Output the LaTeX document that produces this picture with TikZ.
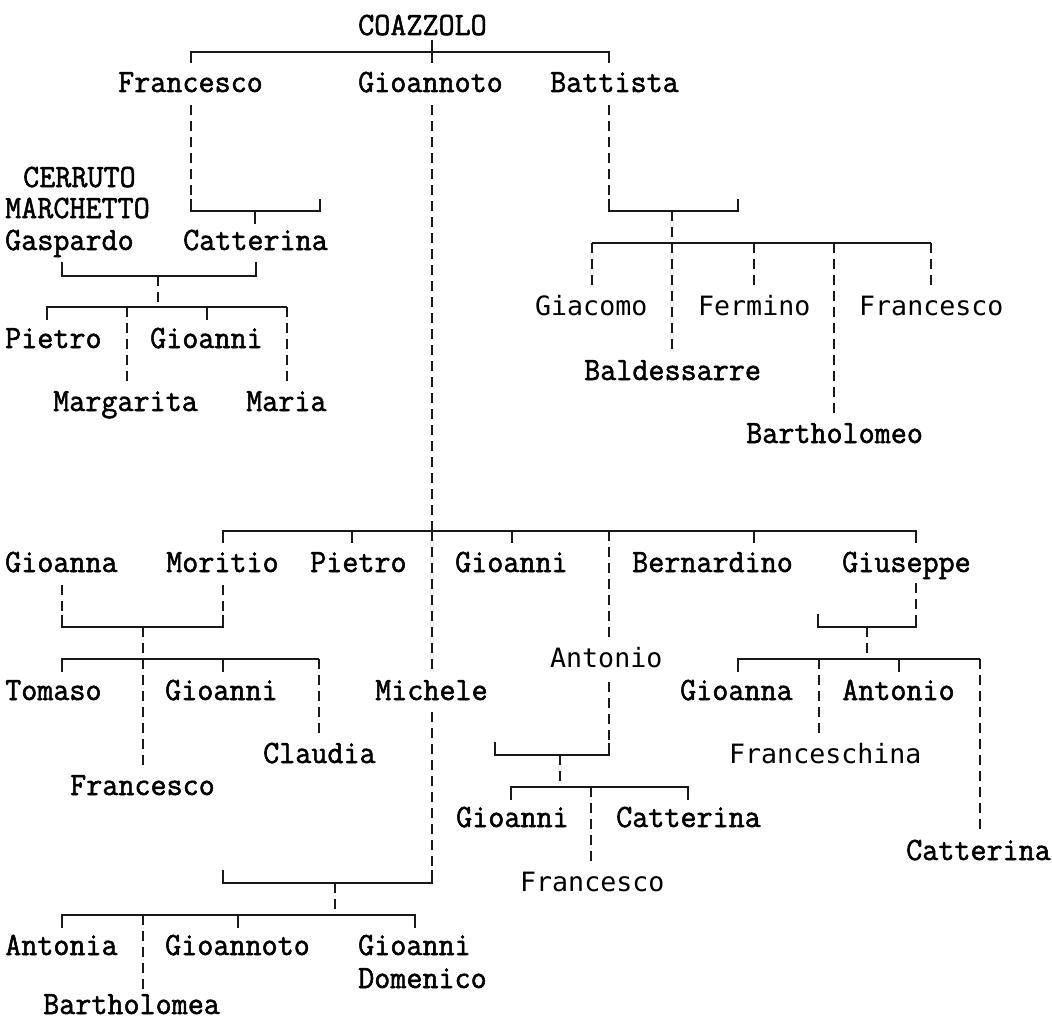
\documentclass[tikz,border=0pt]{standalone}
\usepackage{fontspec}
\newfontfamily\sansmonofam{DejaVu Sans Mono}
\newfontfamily\serifmonofam{Latin Modern Mono}[FakeBold=1.6, FakeStretch=0.96]
\newcommand\srfont{\fontsize{32.5}{35}\selectfont\serifmonofam}
\newcommand\ssfont{\fontsize{26.6}{30}\selectfont\sansmonofam}
\tikzset{
  sr/.style={anchor=base west, inner sep=0pt, font=\srfont, text=black, text depth=0pt},
  ss/.style={anchor=base west, inner sep=0pt, font=\ssfont, text=black, text depth=0pt},
  bar/.style={line width=2pt, draw=black!90, line join=miter},
  dl/.style={line width=2pt, draw=black!90, dash pattern=on 10pt off 6pt},
}
\begin{document}
\begin{tikzpicture}[x=1pt,y=-1pt]
\fill[white] (0,0) rectangle (1052,1022);
\useasboundingbox (0,0) rectangle (1052,1022);

% ---- top generation
\node[sr] (coazzolo) at (358,35) {COAZZOLO};
\node[sr] (francescoA) at (118,92) {Francesco};
\node[sr] (gioannotoA) at (358,92) {Gioannoto};
\node[sr] (battista) at (550,92) {Battista};
\coordinate (topL) at (191,52); \coordinate (topR) at (609,52); \coordinate (topM) at (432,52);
\draw[bar] (432,40) -- (432,63);
\draw[bar] (191,63) -- (topL) -- (topR) -- (609,63);

% ---- Francesco branch
\draw[dl] (191,105) -- (191,199);
\draw[bar] (191,199) -- (191,211) -- (320,211) -- (320,199);
\draw[bar] (255,211) -- (255,224);
\node[sr] (catterinaA) at (183,250) {Catterina};
\node[sr] (cerruto) at (23,187) {CERRUTO};
\node[sr] (marchetto) at (5,218) {MARCHETTO};
\node[sr] (gaspardo) at (5,250) {Gaspardo};
\draw[bar] (62,262) -- (62,276) -- (256,276) -- (256,262);
\draw[dl] (158,276) -- (158,307);
\draw[bar] (47,320) -- (47,307) -- (287,307);
\draw[bar] (207,307) -- (207,320);
\draw[dl] (127,307) -- (127,382);
\draw[dl] (287,307) -- (287,382);
\node[sr] (pietroA) at (5,348) {Pietro};
\node[sr] (gioanniA) at (150,348) {Gioanni};
\node[sr] (margarita) at (53,411) {Margarita};
\node[sr] (maria) at (246,411) {Maria};

% ---- Battista branch
\draw[dl] (609,105) -- (609,199);
\draw[bar] (609,199) -- (609,211) -- (738,211) -- (738,199);
\draw[dl] (672,211) -- (672,243);
\draw[bar] (592,243) -- (931,243);
\draw[dl] (592,243) -- (592,287);
\draw[dl] (672,243) -- (672,350);
\draw[dl] (754,243) -- (754,287);
\draw[dl] (834,243) -- (834,413);
\draw[dl] (931,243) -- (931,287);
\node[ss] (giacomo) at (535,315) {Giacomo};
\node[ss] (fermino) at (698,315) {Fermino};
\node[ss] (francescoB) at (859,315) {Francesco};
\node[sr] (baldessarre) at (584,380) {Baldessarre};
\node[sr] (bartholomeo) at (746,443) {Bartholomeo};

% ---- Gioannoto branch
\draw[dl] (432,105) -- (432,531);
\draw[dl] (432,531) -- (432,672);
\draw[dl] (432,712) -- (432,870);
\draw[bar] (223,543) -- (223,531) -- (916,531) -- (916,543);
\draw[bar] (352,531) -- (352,543);
\draw[bar] (512,531) -- (512,543);
\draw[bar] (754,531) -- (754,543);
\draw[dl] (609,531) -- (609,637);
\node[sr] (gioannaA) at (5,572) {Gioanna};
\node[sr] (moritio) at (166,572) {Moritio};
\node[sr] (pietroB) at (310,572) {Pietro};
\node[sr] (gioanniB) at (455,572) {Gioanni};
\node[sr] (bernardino) at (632,572) {Bernardino};
\node[sr] (giuseppe) at (842,572) {Giuseppe};

% Moritio + Gioanna
\draw[dl] (62,585) -- (62,615);
\draw[dl] (223,585) -- (223,615);
\draw[bar] (62,615) -- (62,627) -- (223,627) -- (223,615);
\draw[dl] (143,627) -- (143,659);
\draw[bar] (62,672) -- (62,659) -- (319,659);
\draw[bar] (223,659) -- (223,672);
\draw[dl] (143,659) -- (143,767);
\draw[dl] (319,659) -- (319,733);
\node[sr] (tomaso) at (5,700) {Tomaso};
\node[sr] (gioanniC) at (165,700) {Gioanni};
\node[sr] (michele) at (375,700) {Michele};
\node[sr] (claudia) at (263,763) {Claudia};
\node[sr] (francescoC) at (70,795) {Francesco};

% Michele
\draw[bar] (223,870) -- (223,883) -- (432,883) -- (432,870);
\draw[dl] (335,883) -- (335,915);
\draw[bar] (62,928) -- (62,915) -- (415,915) -- (415,928);
\draw[bar] (238,915) -- (238,928);
\draw[dl] (143,915) -- (143,990);
\node[sr] (antonia) at (5,955) {Antonia};
\node[sr] (gioannotoB) at (165,955) {Gioannoto};
\node[sr] (gioanniD) at (358,955) {Gioanni};
\node[sr] (domenico) at (358,988) {Domenico};
\node[sr] (bartholomea) at (43,1014) {Bartholomea};

% Antonio
\node[ss] (antonioA) at (550,667) {Antonio};
\draw[dl] (609,682) -- (609,743);
\draw[bar] (609,743) -- (609,755) -- (495,755) -- (495,742);
\draw[dl] (560,755) -- (560,787);
\draw[bar] (511,800) -- (511,787) -- (688,787) -- (688,800);
\draw[dl] (591,787) -- (591,862);
\node[sr] (gioanniE) at (456,827) {Gioanni};
\node[sr] (catterinaB) at (616,827) {Catterina};
\node[ss] (francescoD) at (520,891) {Francesco};

% Giuseppe
\draw[dl] (916,583) -- (916,615);
\draw[bar] (916,615) -- (916,627) -- (818,627) -- (818,614);
\draw[dl] (867,627) -- (867,659);
\draw[bar] (738,672) -- (738,659) -- (980,659);
\draw[bar] (899,659) -- (899,672);
\draw[dl] (819,659) -- (819,733);
\draw[dl] (980,659) -- (980,830);
\node[sr] (gioannaB) at (680,700) {Gioanna};
\node[sr] (antonioB) at (842,700) {Antonio};
\node[ss] (franceschina) at (729,763) {Franceschina};
\node[sr] (catterinaC) at (906,860) {Catterina};
\end{tikzpicture}
\end{document}
